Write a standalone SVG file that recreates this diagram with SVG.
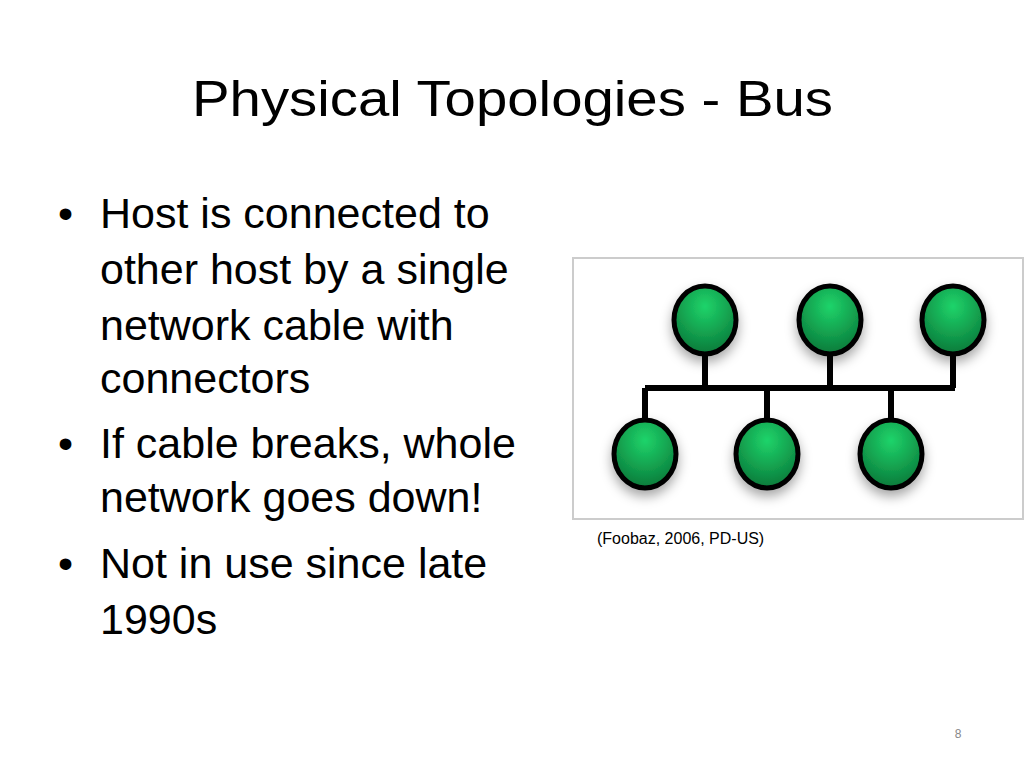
<svg xmlns="http://www.w3.org/2000/svg" width="1024" height="768" viewBox="0 0 1024 768">
<style>
.t{font-family:"Liberation Sans",Arial,sans-serif;fill:#000}
.b{font-size:43px}
.n{fill:url(#g);stroke:#000;stroke-width:5}
.c{stroke:#000;stroke-width:6;fill:none}
</style>
<defs>
<radialGradient id="g" cx="0.5" cy="0.3" r="0.7"><stop offset="0" stop-color="#1fd46a"/><stop offset="1" stop-color="#0a7a3a"/></radialGradient>
<filter id="s" x="-50%" y="-50%" width="200%" height="200%"><feDropShadow dx="0" dy="6" stdDeviation="6" flood-opacity="0.35"/></filter>
</defs>
<rect width="1024" height="768" fill="#fff"/>
<text class="t" x="192" y="116" font-size="50" textLength="641" lengthAdjust="spacingAndGlyphs">Physical Topologies - Bus</text>
<g class="t b">
<text x="58" y="228">•</text><text x="100" y="228">Host is connected to</text>
<text x="100" y="284">other host by a single</text>
<text x="100" y="340">network cable with</text>
<text x="100" y="393">connectors</text>
<text x="58" y="458">•</text><text x="100" y="458">If cable breaks, whole</text>
<text x="100" y="512">network goes down!</text>
<text x="58" y="578">•</text><text x="100" y="578">Not in use since late</text>
<text x="100" y="634">1990s</text>
</g>
<rect x="573" y="258" width="450" height="261" fill="#fff" stroke="#ccc" stroke-width="2"/>
<g id="connectors" class="c">
<path d="M645 388H955"/>
<path d="M705 320V388M830 320V388M953 320V388M645 388V454M767 388V454M891 388V454"/>
</g>
<g id="n1" filter="url(#s)"><ellipse class="n" cx="705" cy="320" rx="31" ry="34"/></g>
<g id="n2" filter="url(#s)"><ellipse class="n" cx="830" cy="320" rx="31" ry="34"/></g>
<g id="n3" filter="url(#s)"><ellipse class="n" cx="953" cy="320" rx="31" ry="34"/></g>
<g id="n4" filter="url(#s)"><ellipse class="n" cx="645" cy="454" rx="31" ry="34"/></g>
<g id="n5" filter="url(#s)"><ellipse class="n" cx="767" cy="454" rx="31" ry="34"/></g>
<g id="n6" filter="url(#s)"><ellipse class="n" cx="891" cy="454" rx="31" ry="34"/></g>
<text class="t" x="597" y="544" font-size="16">(Foobaz, 2006, PD-US)</text>
<text class="t" x="958" y="738" font-size="12" text-anchor="middle" style="fill:#888">8</text>
</svg>
